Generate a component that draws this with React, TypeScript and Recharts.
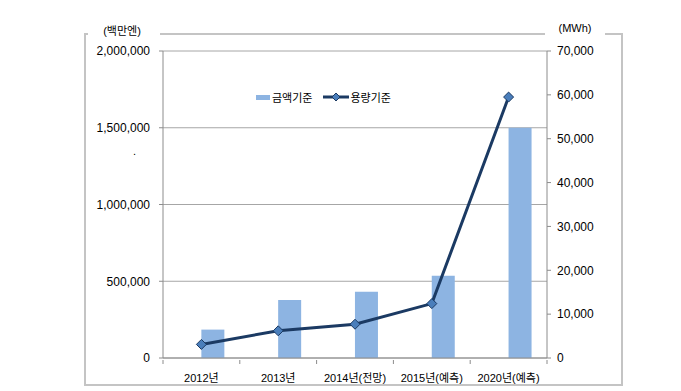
import React from "react";
import { ComposedChart, Bar, Line, XAxis, YAxis, CartesianGrid } from "recharts";

const categories = ["2012년", "2013년", "2014년(전망)", "2015년(예측)", "2020년(예측)"];
const amountValues = [185000, 378000, 432000, 536000, 1500000]; // 금액기준 (백만엔)
const volumeValues = [3100, 6200, 7700, 12400, 59500]; // 용량기준 (MWh)
const leftTicks = [0, 500000, 1000000, 1500000, 2000000];
const rightTicks = [0, 10000, 20000, 30000, 40000, 50000, 60000, 70000];

const data = categories.map((name, i) => ({ name, amount: amountValues[i], volume: volumeValues[i] }));

const FONT = '"Liberation Sans", "Noto Sans CJK KR", sans-serif';
const BAR = "#8DB4E2";
const LINE = "#1B3A63";
const MARK = "#4A7EBB";
const FRAME = "#c4c4c4";
const AXIS = "#8c8c8c";

const fmt = (v: number) => v.toLocaleString("en-US");

const Diamond = (props: any) => {
  const { cx, cy } = props;
  if (cx == null || cy == null) return null;
  const r = 5;
  return (
    <polygon
      points={`${cx},${cy - r} ${cx + r},${cy} ${cx},${cy + r} ${cx - r},${cy}`}
      fill={MARK}
      stroke={LINE}
      strokeWidth={1}
    />
  );
};

const CategoryTick = (props: any) => {
  const { x, y, payload, index } = props;
  const half = payload && payload.offset ? payload.offset : 38.4;
  const axisY = y - 6;
  return (
    <g>
      <line x1={x - half} y1={axisY} x2={x - half} y2={axisY + 4} stroke={AXIS} />
      {index === categories.length - 1 && (
        <line x1={x + half} y1={axisY} x2={x + half} y2={axisY + 4} stroke={AXIS} />
      )}
      <text x={x} y={axisY + 22} textAnchor="middle" fontSize={11} fontFamily={FONT} fill="#000">
        {payload.value}
      </text>
    </g>
  );
};

export default function App() {
  return (
    <div style={{ position: "absolute", left: 0, top: 0, width: 681, height: 391, background: "#fff" }}>
      {/* outer frame */}
      <div style={{ position: "absolute", left: 84, top: 33, width: 2, height: 352, background: FRAME }} />
      <div style={{ position: "absolute", left: 84, top: 384, width: 539, height: 2, background: FRAME }} />
      <div style={{ position: "absolute", left: 621, top: 33, width: 2, height: 353, background: FRAME }} />
      <div style={{ position: "absolute", left: 84, top: 33, width: 4, height: 2, background: FRAME }} />
      <div style={{ position: "absolute", left: 160, top: 33, width: 385, height: 2, background: FRAME }} />
      <div style={{ position: "absolute", left: 605, top: 33, width: 18, height: 2, background: FRAME }} />

      <div style={{ position: "absolute", left: 92, top: 22, width: 60, textAlign: "center", fontSize: 11, fontFamily: FONT, color: "#000" }}>
        (백만엔)
      </div>
      <div style={{ position: "absolute", left: 545, top: 22, width: 60, textAlign: "center", fontSize: 11, fontFamily: FONT, color: "#000" }}>
        (MWh)
      </div>
      <div style={{ position: "absolute", left: 133, top: 145, fontSize: 11, fontFamily: FONT, color: "#000" }}>.</div>

      {/* legend */}
      <div style={{ position: "absolute", left: 256, top: 89, display: "flex", alignItems: "center", fontSize: 11, fontFamily: FONT, color: "#000", whiteSpace: "nowrap" }}>
        <span style={{ display: "inline-block", width: 14, height: 5, background: BAR, marginRight: 2 }} />
        <span>금액기준</span>
        <svg width={26} height={12} style={{ marginLeft: 11, marginRight: 1 }}>
          <line x1={0} y1={6} x2={26} y2={6} stroke={LINE} strokeWidth={3} />
          <polygon points="13,2 17,6 13,10 9,6" fill={MARK} stroke={LINE} strokeWidth={1} />
        </svg>
        <span>용량기준</span>
      </div>

      <div style={{ position: "absolute", left: 0, top: 0 }}>
        <ComposedChart
          width={681}
          height={391}
          data={data}
          margin={{ top: 51, right: 60, bottom: 13, left: 83 }}
          barCategoryGap="20%"
          barGap={0}
        >
          <CartesianGrid yAxisId="left" vertical={false} stroke="#a6a6a6" />
          <XAxis
            dataKey="name"
            height={20}
            axisLine={{ stroke: AXIS }}
            tickLine={false}
            tick={<CategoryTick />}
            interval={0}
          />
          <YAxis
            yAxisId="left"
            width={80}
            domain={[0, 2000000]}
            ticks={leftTicks}
            tickFormatter={fmt}
            axisLine={{ stroke: AXIS }}
            tickLine={{ stroke: AXIS }}
            tickSize={4}
            tickMargin={9}
            tick={{ fontSize: 12, fontFamily: FONT, fill: "#000" }}
          />
          <YAxis
            yAxisId="right"
            orientation="right"
            width={74}
            domain={[0, 70000]}
            ticks={rightTicks}
            tickFormatter={fmt}
            axisLine={{ stroke: AXIS }}
            tickLine={{ stroke: AXIS }}
            tickSize={4}
            tickMargin={6}
            tick={{ fontSize: 12, fontFamily: FONT, fill: "#000", textAnchor: "start" }}
          />
          <Bar yAxisId="left" dataKey="blank" fill="none" legendType="none" isAnimationActive={false} />
          <Bar yAxisId="left" dataKey="amount" name="금액기준" fill={BAR} isAnimationActive={false} />
          <Line
            yAxisId="right"
            type="linear"
            dataKey="volume"
            name="용량기준"
            stroke={LINE}
            strokeWidth={3}
            dot={<Diamond />}
            activeDot={false}
            isAnimationActive={false}
          />
        </ComposedChart>
      </div>
    </div>
  );
}
